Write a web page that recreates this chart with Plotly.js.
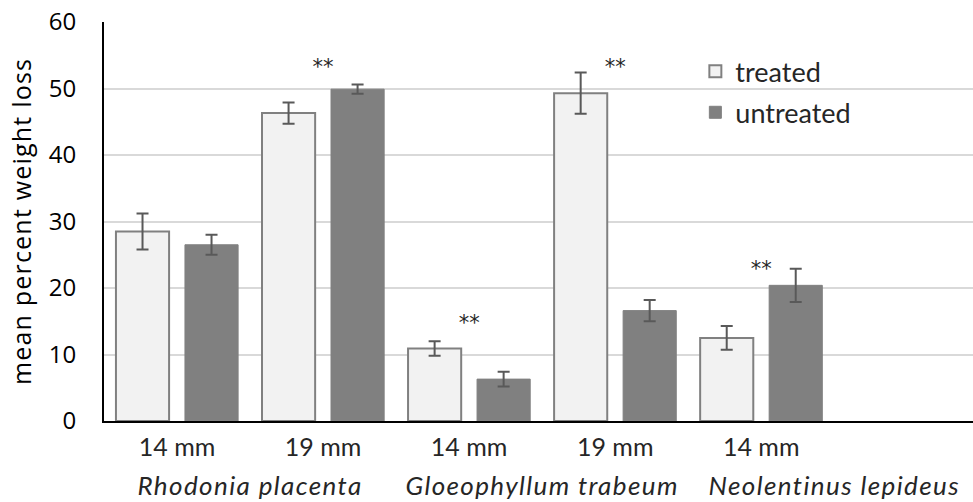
<!DOCTYPE html>
<html>
<head>
<meta charset="utf-8">
<script src="https://cdn.plot.ly/plotly-3.0.1.min.js"></script>
<style>html,body{margin:0;padding:0;background:#fff;}</style>
</head>
<body>
<div id="chart" style="width:973px;height:502px;"></div>
<script>
// ---- data ----
const species = ["Rhodonia placenta", "Rhodonia placenta", "Gloeophyllum trabeum", "Gloeophyllum trabeum", "Neolentinus lepideus", "Neolentinus lepideus"];
const sizes = ["14 mm", "19 mm", "14 mm", "19 mm", "14 mm", "\u00a0"];
const treated = [28.5, 46.3, 10.9, 49.3, 12.5, null];
const treatedErr = [2.7, 1.6, 1.1, 3.1, 1.8, null];
const untreated = [26.5, 49.9, 6.3, 16.6, 20.4, null];
const untreatedErr = [1.5, 0.7, 1.1, 1.6, 2.5, null];
const sigLabels = ["", "**", "**", "**", "**", ""];
const sigY = [null, 53.0, 14.4, 53.0, 22.6, null];
const yTicks = [0, 10, 20, 30, 40, 50, 60];

// ---- build ----
const groupStyle = "font-size:26px;letter-spacing:1.4px;baseline-shift:-10px";
const xCats = [species.map(s => "<span style='" + groupStyle + "'><i>" + s + "</i></span>"), sizes];

const errStyle = {type: "data", visible: true, color: "#595959", thickness: 2, width: 6};

const traces = [
  {
    type: "bar", name: "treated", x: xCats, y: treated, legendgroup: "t",
    marker: {color: "#f2f2f2", line: {color: "#808080", width: 2}},
    error_y: Object.assign({array: treatedErr}, errStyle),
    hoverinfo: "skip"
  },
  {
    type: "bar", name: "untreated", x: xCats, y: untreated, legendgroup: "u",
    marker: {color: "#808080", line: {color: "#808080", width: 1}},
    error_y: Object.assign({array: untreatedErr}, errStyle),
    hoverinfo: "skip"
  },
  {
    type: "scatter", mode: "text", x: xCats, y: sigY, text: sigLabels,
    textposition: "middle center", showlegend: false, hoverinfo: "skip",
    textfont: {family: "DejaVu Sans", size: 21, color: "#262626"}
  }
];

const layout = {
  width: 973, height: 502,
  margin: {l: 104, r: 0, t: 22, b: 81, pad: 0},
  paper_bgcolor: "#ffffff", plot_bgcolor: "#ffffff",
  barmode: "group", bargap: 0.055, bargroupgap: 0.23,
  showlegend: true,
  legend: {
    x: 0.6805, xanchor: "left", y: 0.937, yanchor: "top",
    font: {family: "Lato", size: 27, color: "#262626"},
    bgcolor: "rgba(0,0,0,0)", tracegroupgap: 3, itemwidth: 30
  },
  xaxis: {
    type: "multicategory", range: [-0.5, 5.45],
    showdividers: false, showline: true, linecolor: "#000000", linewidth: 2,
    ticks: "", showgrid: false, zeroline: false,
    tickfont: {family: "Lato", size: 25, color: "#262626"},
    ticklabelstandoff: 3
  },
  yaxis: {
    range: [0, 60], tickvals: yTicks, ticktext: yTicks.map(String),
    showline: true, linecolor: "#000000", linewidth: 2,
    showgrid: true, gridcolor: "#d9d9d9", gridwidth: 2, zeroline: false,
    ticks: "", ticklabelstandoff: 21,
    tickfont: {family: "Open Sans", size: 24, color: "#000000"},
    title: {text: "<span style='letter-spacing:1.2px'>mean percent weight loss</span>", font: {family: "Open Sans", size: 25, color: "#000000"}, standoff: 10}
  }
};

Plotly.newPlot("chart", traces, layout, {displayModeBar: false, staticPlot: true});
</script>
</body>
</html>
